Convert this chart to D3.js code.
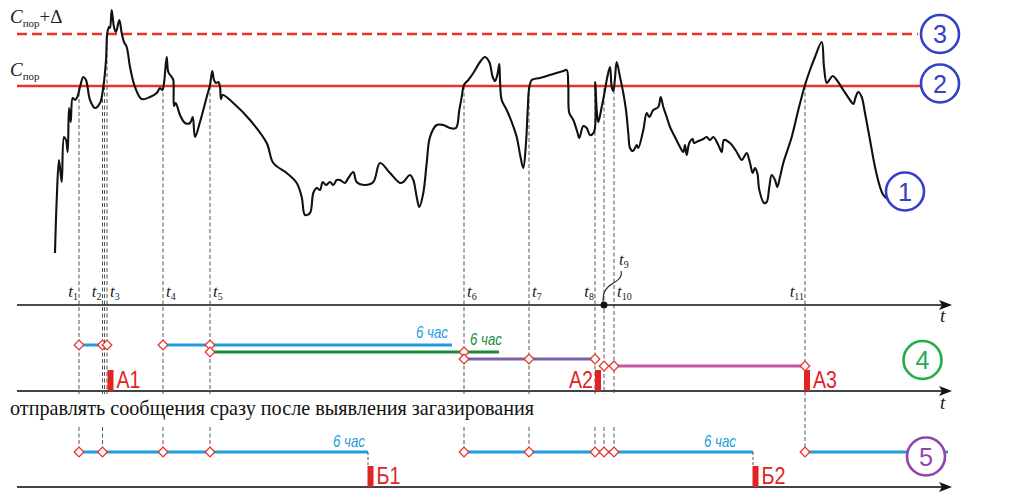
<!DOCTYPE html>
<html><head><meta charset="utf-8">
<script src="https://cdn.jsdelivr.net/npm/d3@7/dist/d3.min.js"></script>
<style>body{margin:0;background:#fff}svg{display:block}</style>
</head><body>
<svg id="chart" width="1016" height="504"></svg>
<script>
// ---- data ----
const curveT = [5.5,5.67,5.9,6.17,6.4,6.6,6.77,6.9,7.07,7.27,7.5,7.73,8.0,8.33,8.6,9.0,9.5,10.0,10.33,10.6,10.73,10.9,11.0,11.17,11.4,11.6,11.93,12.17,12.4,12.67,13.0,13.5,14.17,15.0,15.67,16.0,16.23,16.4,16.67,16.83,17.17,17.33,17.4,17.57,18.0,18.5,19.0,19.27,19.5,20.0,20.67,21.0,21.23,21.4,21.6,21.83,22.0,22.1,22.27,23.33,25.0,26.67,27.33,28.67,29.67,30.17,30.5,31.0,31.33,31.67,32.0,32.27,32.6,33.0,33.33,33.67,34.0,34.5,34.83,35.33,35.67,36.5,37.33,38.0,39.0,40.0,40.33,41.0,41.33,41.67,41.93,42.33,42.67,43.0,43.67,44.33,45.0,45.6,45.93,46.17,46.4,46.83,47.33,48.0,48.5,48.93,49.27,49.5,49.73,49.93,50.0,50.17,50.67,51.17,51.67,52.07,52.33,52.6,52.77,52.93,53.17,54.0,55.33,56.33,56.67,56.83,56.93,57.33,57.73,57.93,58.33,58.67,59.0,59.4,59.53,59.67,59.83,60.17,60.5,60.73,61.0,61.17,61.33,61.5,61.67,62.0,62.33,62.6,62.83,63.0,63.27,63.5,63.67,63.83,64.33,64.67,64.93,65.33,65.83,66.07,66.33,66.67,67.0,67.5,68.0,68.33,68.5,68.67,68.93,69.27,69.4,69.83,70.33,70.67,71.0,71.33,71.83,72.17,72.4,73.0,73.67,74.17,74.4,74.67,75.0,75.27,75.5,75.73,75.93,76.4,76.67,76.93,77.17,77.5,77.73,78.0,78.33,79.17,79.83,80.5,81.0,81.5,82.17,82.4,82.67,82.93,83.27,83.67,84.33,85.0,85.33,85.57,85.83,86.17,86.5,87.0,87.5,88.0,88.33,88.73];
const curveC = [52,105,145,123,168,165,153,197,183,207,205,208,218,228,225,205,197,202,218,245,272,278,277,295,278,273,285,272,263,258,238,218,206,208,212,217,215,222,248,233,228,225,199,202,190,182,182,188,168,183,208,220,234,225,222,223,218,206,210,202,185,162,142,132,122,108,90,92,112,117,115,123,120,123,120,125,125,122,127,133,123,120,123,142,132,122,123,130,125,108,98,112,142,168,180,180,177,177,195,208,220,225,232,243,248,243,228,224,230,241,225,205,195,183,168,147,137,162,195,218,225,227,231,234,235,218,192,185,173,167,179,177,170,173,223,195,183,198,215,228,238,218,214,227,243,228,212,195,172,157,154,157,160,157,175,192,188,195,198,208,198,188,178,168,158,153,160,150,162,166,162,164,166,168,165,168,160,153,165,162,153,145,148,152,142,132,137,132,115,102,103,118,130,125,118,128,142,168,195,220,235,248,263,238,222,225,229,225,215,205,201,208,213,208,192,165,138,118,110,106];

const thresholdC = 219;        // C пор
const thresholdDeltaC = 271;   // C пор + Δ
const axisStartT = 1.7, axisEndT = 95.2;

const eventSub = ["1","2","3","4","5","6","7","8","9","10","11"];
const eventT   = [7.9,10.25,10.7,16.3,21.0,46.4,52.9,59.5,60.4,61.4,80.5];
const eventTopC = [219,219,271,219,219,219,219,219,217,215,219];
const extraGuideT = [10.45];

// row 4 (scheme А)
const row4From  = [7.9, 16.3, 21.0, 46.4, 61.4];
const row4To    = [10.25, 45.2, 49.9, 59.5, 80.5];
const row4Level = [0, 0, 1, 2, 3];
const row4Label = ["", "6 час", "6 час", "", ""];
const row4DiamT = [7.9,10.25,10.7,16.3,21.0,21.0,46.4,46.4,52.9,59.5,60.4,61.4,80.5];
const row4DiamL = [0,0,0,0,0,1,1,2,2,2,3,3,3];
const alarmsA   = ["А1","А2","А3"];
const alarmsAT  = [11.05, 59.8, 80.7];

// row 5 (scheme Б)
const row5From  = [7.9, 46.4, 80.5];
const row5To    = [36.8, 75.3, 94.8];
const row5Label = ["6 час", "6 час", ""];
const row5DiamT = [7.9,10.25,16.3,21.0,46.4,52.9,59.5,60.4,61.4,80.5];
const alarmsB   = ["Б1","Б2"];
const alarmsBT  = [37.05, 75.55];

const noteText = "отправлять сообщения сразу после выявления загазирования";

// ---- styles / layout ----
const RED = "#e8332b", BLUE = "#1f9de0", GREEN = "#1a8b3e", PURPLE = "#7b62aa", MAGENTA = "#c257a3";
const row4Colors = [BLUE, BLUE, GREEN, PURPLE, MAGENTA];
const row4LevelY = [345, 352, 359, 366];
const axis2Y = 391, row5Y = 452, axis3Y = 487;
const row4LabelDx = [0, -4, 3, 0, 0];
const row5LabelDx = [-3, -17, 0];
const alarmASide = ["right","left","right"];
const SERIF = '"Liberation Serif", "Times New Roman", serif';
const SANS = '"Liberation Sans", Arial, sans-serif';

const svg = d3.select("#chart");
const x = d3.scaleLinear().domain([0, 100]).range([0, 1000]);
const y = d3.scaleLinear().domain([0, 300]).range([305, 5]);
const axis1Y = y(0);

// guide dashed lines
const guide = svg.append("g").attr("stroke", "#555").attr("stroke-width", 1).attr("stroke-dasharray", "4,2.5");
eventT.forEach((t, i) => {
  const xx = x(t);
  const top = y(eventTopC[i]);
  if (i === 10) {
    guide.append("line").attr("x1", xx).attr("x2", xx).attr("y1", top).attr("y2", row5Y);
  } else {
    guide.append("line").attr("x1", xx).attr("x2", xx).attr("y1", top).attr("y2", axis2Y + 3);
    if (i !== 2) guide.append("line").attr("x1", xx).attr("x2", xx).attr("y1", 427).attr("y2", row5Y);
  }
});
extraGuideT.forEach(t => {
  guide.append("line").attr("x1", x(t)).attr("x2", x(t)).attr("y1", y(thresholdC)).attr("y2", axis2Y + 3);
});

// threshold lines
svg.append("line").attr("x1", x(axisStartT)).attr("x2", 918).attr("y1", y(thresholdDeltaC)).attr("y2", y(thresholdDeltaC))
  .attr("stroke", RED).attr("stroke-width", 2.4).attr("stroke-dasharray", "10,5");
svg.append("line").attr("x1", x(axisStartT)).attr("x2", 921).attr("y1", y(thresholdC)).attr("y2", y(thresholdC))
  .attr("stroke", RED).attr("stroke-width", 2.4);

// C labels
function cLabel(yy, plus) {
  const t = svg.append("text").style("font-family", SERIF).attr("x", 10).attr("y", yy).attr("font-size", 19).attr("fill", "#222");
  t.append("tspan").attr("font-style", "italic").text("C");
  t.append("tspan").attr("font-size", 11).attr("dy", 4).text("пор");
  if (plus) t.append("tspan").attr("dy", -4).attr("font-size", 19).text("+Δ");
}
cLabel(y(thresholdDeltaC) - 11, true);
cLabel(y(thresholdC) - 10, false);

// curve
const pts = curveT.map((t, i) => [t, curveC[i]]);
svg.append("path").datum(pts)
  .attr("d", d3.line().x(d => x(d[0])).y(d => y(d[1])).curve(d3.curveCatmullRom.alpha(0.5)))
  .attr("fill", "none").attr("stroke", "#111").attr("stroke-width", 2.1).attr("stroke-linejoin", "round");

// axes with arrows
function axis(yy, color, w) {
  svg.append("line").attr("x1", x(axisStartT)).attr("x2", x(axisEndT) - 6).attr("y1", yy).attr("y2", yy)
    .attr("stroke", color).attr("stroke-width", w);
  const xe = x(axisEndT);
  svg.append("path").attr("d", `M${xe},${yy} L${xe-13},${yy-5} L${xe-10},${yy} L${xe-13},${yy+5} Z`).attr("fill", "#111");
}
axis(axis1Y, "#111", 1.6);
axis(axis2Y, "#444", 2);
axis(axis3Y, "#444", 2);
function tLabel(xx, yy) {
  svg.append("text").style("font-family", SERIF).attr("x", xx).attr("y", yy).attr("font-style", "italic")
    .attr("font-size", 19).attr("fill", "#222").text("t");
}
tLabel(x(axisEndT) - 12, axis1Y + 17);
tLabel(x(axisEndT) - 12, axis2Y + 18);

// event labels
const labelSide = ["L","L","R","R","R","R","R","L","N","R","L"];
eventT.forEach((t, i) => {
  if (labelSide[i] === "N") return;
  const g = svg.append("text").style("font-family", SERIF).attr("y", axis1Y - 8).attr("font-size", 17).attr("fill", "#222")
    .attr("text-anchor", labelSide[i] === "L" ? "end" : "start")
    .attr("x", labelSide[i] === "L" ? x(t) - 1 : x(t) + 3);
  g.append("tspan").attr("font-style", "italic").text("t");
  g.append("tspan").attr("font-size", 10).attr("dy", 3).text(eventSub[i]);
});
// t9 special label with leader
const t9x = x(eventT[8]);
svg.append("path")
  .datum([[t9x-1, axis1Y], [t9x-1, axis1Y-12], [t9x+4, axis1Y-19], [t9x+12, axis1Y-23], [t9x+18, axis1Y-29], [t9x+17, axis1Y-34]])
  .attr("d", d3.line().curve(d3.curveBasis)).attr("fill", "none").attr("stroke", "#222").attr("stroke-width", 1.1);
svg.append("circle").attr("cx", t9x).attr("cy", axis1Y).attr("r", 3.5).attr("fill", "#111");
const t9l = svg.append("text").style("font-family", SERIF).attr("x", t9x + 15).attr("y", axis1Y - 40).attr("font-size", 17).attr("fill", "#222");
t9l.append("tspan").attr("font-style", "italic").text("t");
t9l.append("tspan").attr("font-size", 10).attr("dy", 3).text(eventSub[8]);

// hour labels
function hourLabel(xEnd, yy, txt, color) {
  svg.append("text").style("font-family", SANS).attr("x", xEnd).attr("y", yy)
    .attr("text-anchor", "end").attr("font-style", "italic").attr("font-size", 17)
    .attr("textLength", 32).attr("lengthAdjust", "spacingAndGlyphs")
    .attr("fill", color).text(txt);
}
// row 4 segments
row4From.forEach((f, i) => {
  const yy = row4LevelY[row4Level[i]];
  svg.append("line").attr("x1", x(f)).attr("x2", x(row4To[i])).attr("y1", yy).attr("y2", yy)
    .attr("stroke", row4Colors[i]).attr("stroke-width", 3);
  if (row4Label[i]) hourLabel(x(row4To[i]) + row4LabelDx[i], yy - 7, row4Label[i], row4Colors[i]);
});
// row 5 segments
row5From.forEach((f, i) => {
  svg.append("line").attr("x1", x(f)).attr("x2", x(row5To[i])).attr("y1", row5Y).attr("y2", row5Y)
    .attr("stroke", BLUE).attr("stroke-width", 3);
  if (row5Label[i]) hourLabel(x(row5To[i]) + row5LabelDx[i], row5Y - 5, row5Label[i], BLUE);
});

// diamonds
const diamond = d3.symbol().type(d3.symbolSquare).size(46);
function diam(xx, yy) {
  svg.append("path").attr("d", diamond()).attr("transform", `translate(${xx},${yy}) rotate(45)`)
    .attr("fill", "#fff").attr("stroke", RED).attr("stroke-width", 1.3);
}
row4DiamT.forEach((t, i) => diam(x(t), row4LevelY[row4DiamL[i]]));
row5DiamT.forEach(t => diam(x(t), row5Y));

// alarms
function alarm(t, baseY, name, side) {
  const xx = x(t);
  svg.append("rect").attr("x", xx - 3).attr("y", baseY - 21).attr("width", 6).attr("height", 21).attr("fill", "#e02424");
  svg.append("text").style("font-family", SANS).attr("x", side === "left" ? xx - 5 : xx + 6).attr("y", baseY - 3)
    .attr("text-anchor", side === "left" ? "end" : "start")
    .attr("font-size", 23).attr("textLength", 24).attr("lengthAdjust", "spacingAndGlyphs")
    .attr("fill", "#e02424").text(name);
}
alarmsA.forEach((n, i) => alarm(alarmsAT[i], axis2Y, n, alarmASide[i]));
alarmsB.forEach((n, i) => {
  svg.append("line").attr("x1", x(row5To[i])).attr("x2", x(row5To[i])).attr("y1", row5Y).attr("y2", axis3Y - 21)
    .attr("stroke", "#555").attr("stroke-width", 1).attr("stroke-dasharray", "3,2");
  alarm(alarmsBT[i], axis3Y, n, "right");
});

// note text
svg.append("text").style("font-family", SERIF).attr("x", 10).attr("y", 415).attr("font-size", 20.2)
  .attr("fill", "#111").text(noteText);

// numbered circles
const circNum = ["1","2","3","4","5"];
const circPos = [[905,191.5],[940,83.5],[940,34],[922.5,360],[926,456.5]];
const circCol = ["#3340c8","#3340c8","#3340c8","#1fae4b","#9245a8"];
circNum.forEach((n, i) => {
  svg.append("circle").attr("cx", circPos[i][0]).attr("cy", circPos[i][1]).attr("r", 19)
    .attr("fill", "#fff").attr("stroke", circCol[i]).attr("stroke-width", 2.6);
  svg.append("text").style("font-family", SANS).attr("x", circPos[i][0]).attr("y", circPos[i][1] + 9).attr("text-anchor", "middle")
    .attr("font-size", 26).attr("textLength", 14).attr("lengthAdjust", "spacingAndGlyphs")
    .attr("fill", circCol[i]).text(n);
});
</script>
</body></html>
